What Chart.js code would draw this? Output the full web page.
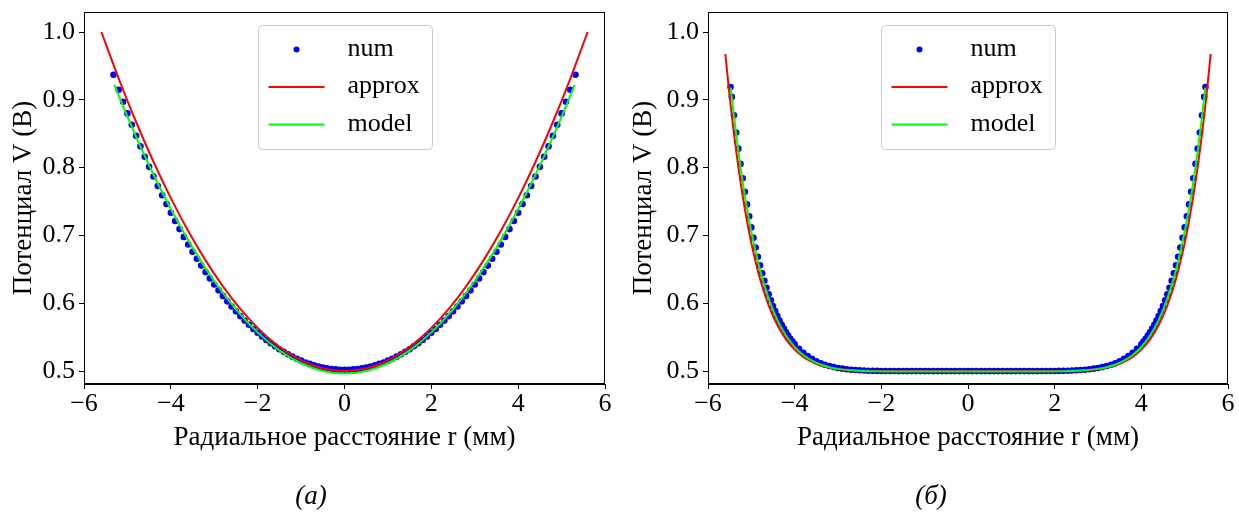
<!DOCTYPE html>
<html><head><meta charset="utf-8">
<script src="https://cdn.jsdelivr.net/npm/chart.js@4"></script>
<style>
html,body{margin:0;padding:0;background:#fff;}
#wrap{position:relative;width:1239px;height:515px;overflow:hidden;background:#fff;}
canvas{position:absolute;top:0;}
</style></head><body>
<div id="wrap">
<canvas id="cA" width="620" height="515" style="left:0;width:620px;height:515px"></canvas>
<canvas id="cB" width="619" height="515" style="left:620px;width:619px;height:515px"></canvas>
</div>
<script>
// ---------- shared text ----------
const seriesLabels = ['num', 'approx', 'model'];
const xTitle = 'Радиальное расстояние r (мм)';
const yTitle = 'Потенциал V (В)';
const captions = ['(а)', '(б)'];
const xTicks = [-6, -4, -2, 0, 2, 4, 6];
const xTickLabels = ['\u22126', '\u22124', '\u22122', '0', '2', '4', '6'];
const yTicks = [0.5, 0.6, 0.7, 0.8, 0.9, 1.0];
const yTickLabels = ['0.5', '0.6', '0.7', '0.8', '0.9', '1.0'];

// ---------- panel (а) ----------
const rA_num = [-5.32,-5.2,-5.1,-5.0,-4.9,-4.8,-4.7,-4.6,-4.5,-4.4,-4.3,-4.2,-4.1,-4.0,-3.9,-3.8,-3.7,-3.6,-3.5,-3.4,-3.3,-3.2,-3.1,-3.0,-2.9,-2.8,-2.7,-2.6,-2.5,-2.4,-2.3,-2.2,-2.1,-2.0,-1.9,-1.8,-1.7,-1.6,-1.5,-1.4,-1.3,-1.2,-1.1,-1.0,-0.9,-0.8,-0.7,-0.6,-0.5,-0.4,-0.3,-0.2,-0.1,0,0.1,0.2,0.3,0.4,0.5,0.6,0.7,0.8,0.9,1.0,1.1,1.2,1.3,1.4,1.5,1.6,1.7,1.8,1.9,2.0,2.1,2.2,2.3,2.4,2.5,2.6,2.7,2.8,2.9,3.0,3.1,3.2,3.3,3.4,3.5,3.6,3.7,3.8,3.9,4.0,4.1,4.2,4.3,4.4,4.5,4.6,4.7,4.8,4.9,5.0,5.1,5.2,5.32];
const vA_num = [0.937,0.9148,0.8971,0.8800,0.8633,0.8471,0.8314,0.8161,0.8012,0.7869,0.7729,0.7594,0.7463,0.7336,0.7213,0.7094,0.6979,0.6867,0.6760,0.6656,0.6556,0.6460,0.6367,0.6277,0.6191,0.6109,0.6029,0.5953,0.5881,0.5811,0.5745,0.5682,0.5622,0.5565,0.5510,0.5459,0.5411,0.5366,0.5323,0.5284,0.5247,0.5213,0.5182,0.5154,0.5128,0.5106,0.5085,0.5068,0.5053,0.5041,0.5032,0.5025,0.5021,0.5020,0.5021,0.5025,0.5032,0.5041,0.5053,0.5068,0.5085,0.5106,0.5128,0.5154,0.5182,0.5213,0.5247,0.5284,0.5323,0.5366,0.5411,0.5459,0.5510,0.5565,0.5622,0.5682,0.5745,0.5811,0.5881,0.5953,0.6029,0.6109,0.6191,0.6277,0.6367,0.6460,0.6556,0.6656,0.6760,0.6867,0.6979,0.7094,0.7213,0.7336,0.7463,0.7594,0.7729,0.7869,0.8012,0.8161,0.8314,0.8471,0.8633,0.8800,0.8971,0.9148,0.937];
const rA_approx = [-5.6,-5.2,-4.8,-4.4,-4.0,-3.6,-3.2,-2.8,-2.4,-2.0,-1.6,-1.2,-0.8,-0.4,0,0.4,0.8,1.2,1.6,2.0,2.4,2.8,3.2,3.6,4.0,4.4,4.8,5.2,5.6];
const vA_approx = [1.0,0.9311,0.8673,0.8087,0.7551,0.7066,0.6633,0.6250,0.5918,0.5638,0.5408,0.5230,0.5102,0.5026,0.5000,0.5026,0.5102,0.5230,0.5408,0.5638,0.5918,0.6250,0.6633,0.7066,0.7551,0.8087,0.8673,0.9311,1.0];
const rA_model = [-5.3,-5.0,-4.5,-4.0,-3.5,-3.0,-2.5,-2.0,-1.5,-1.0,-0.5,0,0.5,1.0,1.5,2.0,2.5,3.0,3.5,4.0,4.5,5.0,5.3];
const vA_model = [0.922,0.8752,0.8032,0.7389,0.6821,0.6328,0.5912,0.5571,0.5306,0.5116,0.5003,0.4965,0.5003,0.5116,0.5306,0.5571,0.5912,0.6328,0.6821,0.7389,0.8032,0.8752,0.922];

// ---------- panel (б) ----------
const rB_num = [-5.48,-5.45,-5.40,-5.35,-5.30,-5.25,-5.20,-5.15,-5.10,-5.05,-5.00,-4.95,-4.90,-4.85,-4.80,-4.75,-4.70,-4.65,-4.60,-4.55,-4.50,-4.45,-4.40,-4.35,-4.30,-4.25,-4.20,-4.15,-4.10,-4.05,-4.00,-3.9,-3.8,-3.7,-3.6,-3.5,-3.4,-3.3,-3.2,-3.1,-3.0,-2.9,-2.8,-2.7,-2.6,-2.5,-2.4,-2.3,-2.2,-2.1,-2.0,-1.9,-1.8,-1.7,-1.6,-1.5,-1.4,-1.3,-1.2,-1.1,-1.0,-0.9,-0.8,-0.7,-0.6,-0.5,-0.4,-0.3,-0.2,-0.1,0,0.1,0.2,0.3,0.4,0.5,0.6,0.7,0.8,0.9,1.0,1.1,1.2,1.3,1.4,1.5,1.6,1.7,1.8,1.9,2.0,2.1,2.2,2.3,2.4,2.5,2.6,2.7,2.8,2.9,3.0,3.1,3.2,3.3,3.4,3.5,3.6,3.7,3.8,3.9,4.00,4.05,4.10,4.15,4.20,4.25,4.30,4.35,4.40,4.45,4.50,4.55,4.60,4.65,4.70,4.75,4.80,4.85,4.90,4.95,5.00,5.05,5.10,5.15,5.20,5.25,5.30,5.35,5.40,5.45,5.48];
const vB_num = [0.919,0.9043,0.8773,0.8519,0.8280,0.8055,0.7843,0.7644,0.7458,0.7283,0.7119,0.6965,0.6821,0.6686,0.6560,0.6442,0.6332,0.6229,0.6134,0.6045,0.5961,0.5884,0.5812,0.5746,0.5684,0.5626,0.5573,0.5524,0.5478,0.5436,0.5397,0.5329,0.5270,0.5221,0.5180,0.5146,0.5117,0.5094,0.5075,0.5059,0.5046,0.5036,0.5027,0.5021,0.5016,0.5012,0.5009,0.5006,0.5004,0.5003,0.5002,0.5001,0.5001,0.5001,0.5000,0.5000,0.5000,0.5000,0.5000,0.5000,0.5000,0.5000,0.5000,0.5000,0.5000,0.5000,0.5000,0.5000,0.5000,0.5000,0.5000,0.5000,0.5000,0.5000,0.5000,0.5000,0.5000,0.5000,0.5000,0.5000,0.5000,0.5000,0.5000,0.5000,0.5000,0.5000,0.5000,0.5001,0.5001,0.5001,0.5002,0.5003,0.5004,0.5006,0.5009,0.5012,0.5016,0.5021,0.5027,0.5036,0.5046,0.5059,0.5075,0.5094,0.5117,0.5146,0.5180,0.5221,0.5270,0.5329,0.5397,0.5436,0.5478,0.5524,0.5573,0.5626,0.5684,0.5746,0.5812,0.5884,0.5961,0.6045,0.6134,0.6229,0.6332,0.6442,0.6560,0.6686,0.6821,0.6965,0.7119,0.7283,0.7458,0.7644,0.7843,0.8055,0.8280,0.8519,0.8773,0.9043,0.919];
const rB_approx = [-5.6,-5.5,-5.4,-5.3,-5.2,-5.1,-5.0,-4.8,-4.6,-4.4,-4.2,-4.0,-3.8,-3.6,-3.4,-3.2,-3.0,-2.6,-2.2,-1.6,0,1.6,2.2,2.6,3.0,3.2,3.4,3.6,3.8,4.0,4.2,4.4,4.6,4.8,5.0,5.1,5.2,5.3,5.4,5.5,5.6];
const vB_approx = [0.9676,0.9048,0.8496,0.8010,0.7585,0.7213,0.6889,0.6362,0.5969,0.5679,0.5468,0.5317,0.5210,0.5136,0.5086,0.5053,0.5032,0.5010,0.5003,0.5000,0.5000,0.5000,0.5003,0.5010,0.5032,0.5053,0.5086,0.5136,0.5210,0.5317,0.5468,0.5679,0.5969,0.6362,0.6889,0.7213,0.7585,0.8010,0.8496,0.9048,0.9676];
const rB_model = [-5.476,-5.4,-5.3,-5.2,-5.1,-5.0,-4.8,-4.6,-4.4,-4.2,-4.0,-3.8,-3.6,-3.4,-3.2,-3.0,-2.6,-2.2,-1.6,0,1.6,2.2,2.6,3.0,3.2,3.4,3.6,3.8,4.0,4.2,4.4,4.6,4.8,5.0,5.1,5.2,5.3,5.4,5.476];
const vB_model = [0.918,0.8748,0.8239,0.7791,0.7398,0.7054,0.6492,0.6069,0.5755,0.5524,0.5356,0.5237,0.5154,0.5097,0.5058,0.5033,0.5008,0.4999,0.4995,0.4995,0.4995,0.4999,0.5008,0.5033,0.5058,0.5097,0.5154,0.5237,0.5356,0.5524,0.5755,0.6069,0.6492,0.7054,0.7398,0.7791,0.8239,0.8748,0.918];

// ---------- rendering ----------
const FONT = '"Liberation Serif", "Times New Roman", serif';
const FS = 26;
const FT = 27;
const pts = (xs, ys) => xs.map((x, i) => ({x: x, y: ys[i]}));
const near = (arr, v) => arr.findIndex(t => Math.abs(t - v) < 1e-9);

const framePlugin = {
  id: 'frame',
  afterDatasetsDraw(chart) {
    const {ctx, chartArea: a} = chart;
    ctx.save();
    ctx.strokeStyle = '#000';
    ctx.lineWidth = 1;
    ctx.strokeRect(Math.round(a.left) + 0.5, Math.round(a.top) + 0.5,
                   Math.round(a.right - a.left) - 1, Math.round(a.bottom - a.top) - 1);
    ctx.restore();
  }
};

const legendPlugin = {
  id: 'boxLegend',
  afterDatasetsDraw(chart) {
    const {ctx, chartArea: a} = chart;
    const w = 174, h = 124;
    const bx = Math.round((a.left + a.right) / 2 - w / 2) + 0.5;
    const by = Math.round(a.top + 13) + 0.5;
    ctx.save();
    ctx.beginPath();
    ctx.roundRect(bx, by, w, h, 4);
    ctx.fillStyle = 'rgba(255,255,255,0.8)';
    ctx.fill();
    ctx.strokeStyle = '#cccccc';
    ctx.lineWidth = 1;
    ctx.stroke();
    const ds = chart.data.datasets;
    ds.forEach((d, i) => {
      const cy = by + 24 + i * 37.5;
      if (d.showLine) {
        ctx.beginPath();
        ctx.moveTo(bx + 10, cy);
        ctx.lineTo(bx + 66, cy);
        ctx.strokeStyle = d.borderColor;
        ctx.lineWidth = 2;
        ctx.stroke();
      } else {
        ctx.beginPath();
        ctx.arc(bx + 38, cy, 3, 0, Math.PI * 2);
        ctx.fillStyle = d.backgroundColor;
        ctx.fill();
      }
      ctx.fillStyle = '#000';
      ctx.font = FS + 'px ' + FONT;
      ctx.textAlign = 'left';
      ctx.textBaseline = 'alphabetic';
      ctx.fillText(d.label, bx + 89, cy + 6);
    });
    ctx.restore();
  }
};

const captionPlugin = {
  id: 'caption',
  afterDraw(chart) {
    const {ctx} = chart;
    const t = chart.options.plugins.caption.text;
    ctx.save();
    ctx.fillStyle = '#000';
    ctx.font = 'italic ' + FT + 'px ' + FONT;
    ctx.textAlign = 'center';
    ctx.textBaseline = 'middle';
    ctx.fillText(t, chart.options.plugins.caption.x, 497);
    ctx.restore();
  }
};

function makeChart(id, rn, vn, ra, va, rm, vm, yAxisWidth, rightPad, caption, capX) {
  return new Chart(document.getElementById(id), {
    type: 'scatter',
    data: {
      datasets: [
        {label: seriesLabels[0], data: pts(rn, vn), showLine: false, pointRadius: 3.3, pointHoverRadius: 3.3,
         backgroundColor: '#0000ff', borderColor: '#0000ff', borderWidth: 0, order: 2},
        {label: seriesLabels[1], data: pts(ra, va), showLine: true, pointRadius: 0, borderColor: '#ff0000',
         backgroundColor: '#ff0000', borderWidth: 2, fill: false, cubicInterpolationMode: 'monotone', order: 1},
        {label: seriesLabels[2], data: pts(rm, vm), showLine: true, pointRadius: 0, borderColor: '#00ff00',
         backgroundColor: '#00ff00', borderWidth: 2, fill: false, cubicInterpolationMode: 'monotone', order: 0}
      ]
    },
    options: {
      responsive: false, animation: false, devicePixelRatio: 1,
      layout: {padding: {left: 0, right: rightPad, top: 12, bottom: 0}},
      plugins: {legend: {display: false}, tooltip: {enabled: false},
                caption: {text: caption, x: capX}},
      scales: {
        x: {
          type: 'linear', min: -6, max: 6,
          afterBuildTicks: s => { s.ticks = xTicks.map(v => ({value: v})); },
          afterFit: s => { s.height = 131; s.paddingLeft = 0; s.paddingRight = 0; },
          ticks: {font: {family: FONT, size: FS}, color: '#000', padding: 0, maxRotation: 0, autoSkip: false,
                  callback: v => { const i = near(xTicks, v); return i >= 0 ? xTickLabels[i] : ''; }},
          grid: {display: true, drawOnChartArea: false, drawTicks: true, tickLength: 5, color: '#000', lineWidth: 1},
          border: {display: true, color: '#000', width: 1},
          title: {display: true, text: xTitle, color: '#000', font: {family: FONT, size: FT}, padding: {top: 0, bottom: 61}}
        },
        y: {
          type: 'linear', min: 0.481, max: 1.0295,
          afterBuildTicks: s => { s.ticks = yTicks.map(v => ({value: v})); },
          afterFit: s => { s.width = yAxisWidth; s.paddingTop = 0; s.paddingBottom = 0; },
          ticks: {font: {family: FONT, size: FS}, color: '#000', padding: 4, autoSkip: false,
                  callback: v => { const i = near(yTicks, v); return i >= 0 ? yTickLabels[i] : ''; }},
          grid: {display: true, drawOnChartArea: false, drawTicks: true, tickLength: 5, color: '#000', lineWidth: 1},
          border: {display: true, color: '#000', width: 1},
          title: {display: true, text: yTitle, color: '#000', font: {family: FONT, size: FT}, padding: {top: 8, bottom: 0}}
        }
      }
    },
    plugins: [framePlugin, legendPlugin, captionPlugin]
  });
}

makeChart('cA', rA_num, vA_num, rA_approx, vA_approx, rA_model, vA_model, 84, 15, captions[0], 311);
makeChart('cB', rB_num, vB_num, rB_approx, vB_approx, rB_model, vB_model, 88, 11, captions[1], 311);
</script>
</body></html>
